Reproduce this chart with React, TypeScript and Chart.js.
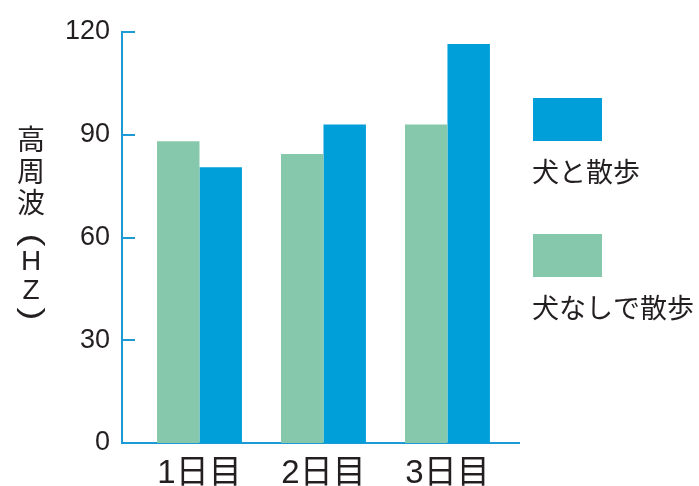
import React, { useEffect, useRef } from 'react';
import { Chart, registerables } from 'chart.js';

Chart.register(...registerables);

// ---- data ----
const categories = ['1日目', '2日目', '3日目'];
const seriesNames = ['犬なしで散歩', '犬と散歩'];
const withoutDog = [88.1, 84.4, 93.0];
const withDog = [80.5, 93.0, 116.5];
const yTicks = [0, 30, 60, 90, 120];
const yTitleChars = ['高', '周', '波', '(', 'H', 'Z', ')'];

// ---- styles ----
const BLUE = '#009fda';
const GREEN = '#86c8ab';
const AXIS = '#1b9ad6';
const TEXT = '#231f20';
const CJK = '"Noto Sans CJK JP", "Noto Sans", sans-serif';
const LATIN = '"Liberation Sans", Arial, "Noto Sans CJK JP", sans-serif';

const decorPlugin = {
  id: 'decor',
  afterDatasetsDraw(chart: any) {
    const { ctx, chartArea } = chart;
    const y = chart.scales.y;
    ctx.save();
    // inward tick marks on the y axis
    ctx.strokeStyle = AXIS;
    ctx.lineWidth = 2;
    yTicks.forEach((v) => {
      const py = Math.round(y.getPixelForValue(v));
      ctx.beginPath();
      ctx.moveTo(chartArea.left, py);
      ctx.lineTo(chartArea.left + 13, py);
      ctx.stroke();
    });
    ctx.restore();
  },
  afterDraw(chart: any) {
    const { ctx } = chart;
    ctx.save();
    // vertical y-axis title, characters stacked upright
    ctx.fillStyle = TEXT;
    ctx.textAlign = 'center';
    ctx.textBaseline = 'middle';
    const titleY = [139, 171.5, 202.5, 240, 262, 291.5, 314];
    yTitleChars.forEach((ch, i) => {
      if (ch === '(' || ch === ')') {
        // parentheses turned a quarter turn, as in vertical Japanese text
        ctx.save();
        ctx.translate(31, titleY[i]);
        ctx.rotate(Math.PI / 2);
        ctx.scale(1.3, 1.0);
        ctx.font = `30px ${LATIN}`;
        ctx.fillText(ch, 0, 0);
        ctx.restore();
        return;
      }
      const isLatin = /[A-Z]/.test(ch);
      ctx.font = isLatin ? `28px ${LATIN}` : `28px ${CJK}`;
      ctx.fillText(ch, 31, titleY[i]);
    });

    // legend: box above label, reversed order (blue first)
    const ds = chart.data.datasets;
    const order = [1, 0];
    const boxTops = [98, 234];
    order.forEach((di, k) => {
      const d = ds[di];
      ctx.fillStyle = d.backgroundColor;
      ctx.fillRect(533, boxTops[k], 69, 43);
      ctx.fillStyle = TEXT;
      ctx.font = `27px ${CJK}`;
      ctx.textAlign = 'left';
      ctx.textBaseline = 'middle';
      ctx.fillText(d.label, 532, boxTops[k] + 74);
    });
    ctx.restore();
  },
};

export default function App() {
  const canvasRef = useRef<HTMLCanvasElement | null>(null);

  useEffect(() => {
    const canvas = canvasRef.current;
    if (!canvas) return;
    const chart = new Chart(canvas, {
      type: 'bar',
      data: {
        datasets: [
          {
            label: seriesNames[0],
            data: withoutDog.map((v, i) => ({ x: i, y: v })),
            backgroundColor: GREEN,
            borderWidth: 0,
            categoryPercentage: 0.685,
            barPercentage: 1,
          },
          {
            label: seriesNames[1],
            data: withDog.map((v, i) => ({ x: i, y: v })),
            backgroundColor: BLUE,
            borderWidth: 0,
            categoryPercentage: 0.685,
            barPercentage: 1,
          },
        ],
      } as any,
      options: {
        animation: false,
        responsive: false,
        devicePixelRatio: 1,
        layout: { padding: { top: 32, right: 180, left: 0, bottom: 0 } },
        plugins: {
          legend: { display: false },
          tooltip: { enabled: false },
        },
        scales: {
          x: {
            type: 'linear',
            min: -0.625,
            max: 2.577,
            offset: false,
            grid: { display: false, drawTicks: false },
            border: { display: true, color: AXIS, width: 2 },
            afterBuildTicks: (s: any) => {
              s.ticks = categories.map((_, i) => ({ value: i }));
            },
            afterFit: (s: any) => {
              s.height = 43;
            },
            ticks: {
              autoSkip: false,
              maxRotation: 0,
              padding: 11,
              color: TEXT,
              font: { family: LATIN, size: 33 },
              callback: (v: any) => categories[v] ?? '',
            },
          },
          y: {
            min: 0,
            max: 120,
            grid: { display: false, drawTicks: false },
            border: { display: true, color: AXIS, width: 2 },
            afterBuildTicks: (s: any) => {
              s.ticks = yTicks.map((v) => ({ value: v }));
            },
            afterFit: (s: any) => {
              s.width = 122;
            },
            ticks: {
              padding: 12,
              color: TEXT,
              font: { family: LATIN, size: 27 },
            },
          },
        },
      } as any,
      plugins: [decorPlugin],
    });
    return () => chart.destroy();
  }, []);

  return (
    <div style={{ position: 'fixed', left: 0, top: 0, width: 699, height: 486, background: '#fff' }}>
      <canvas ref={canvasRef} width={699} height={486} style={{ display: 'block' }} />
    </div>
  );
}
